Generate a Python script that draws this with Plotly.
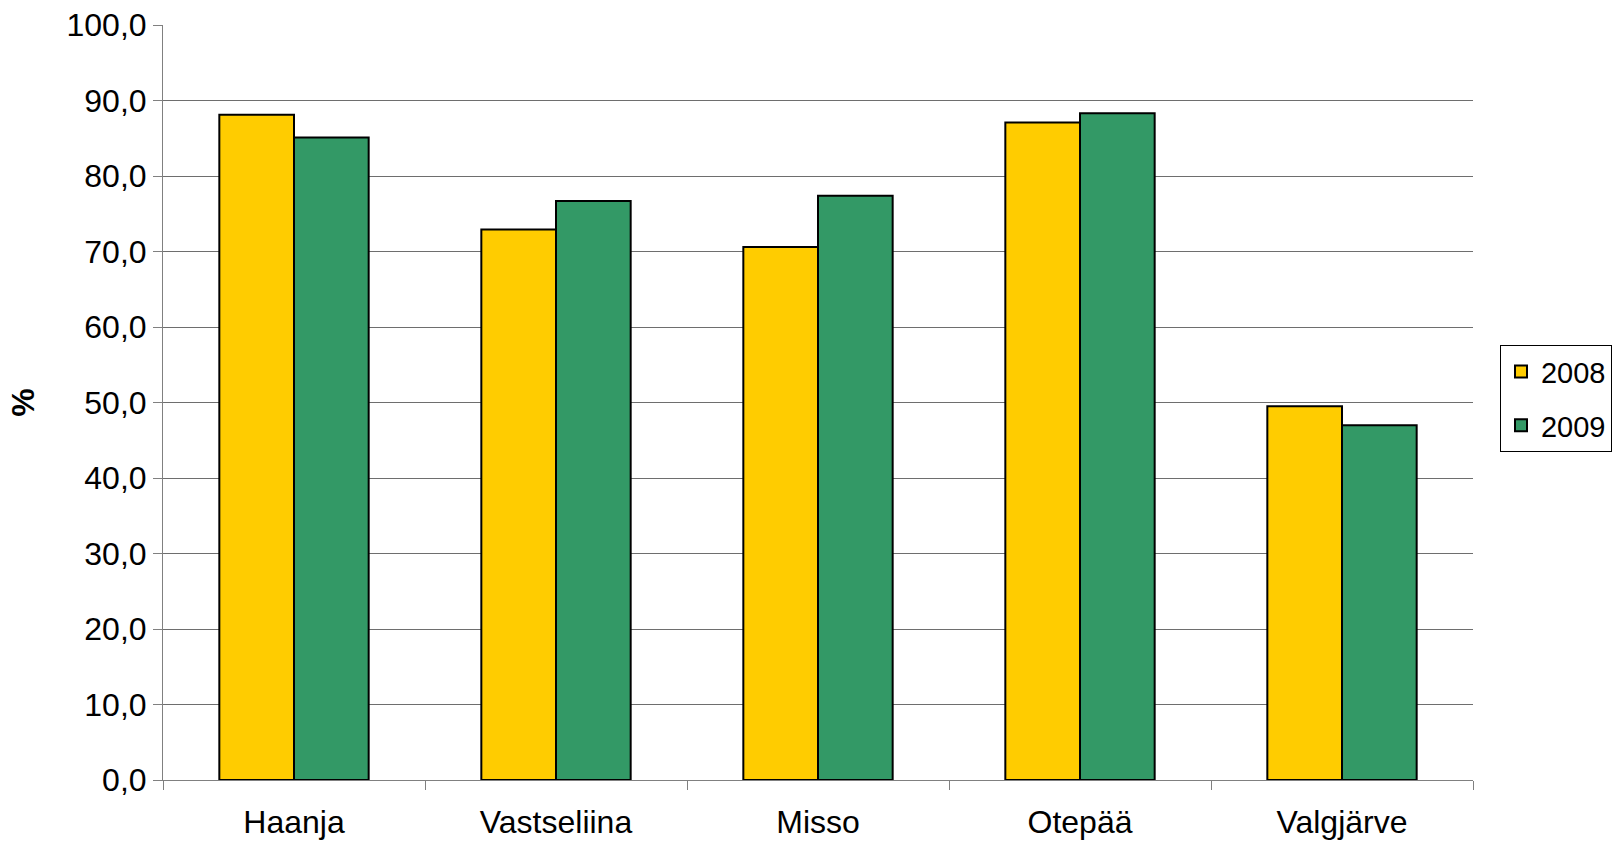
import plotly.graph_objects as go

categories = ["Haanja", "Vastseliina", "Misso", "Otepää", "Valgjärve"]
values_2008 = [88.1, 72.9, 70.6, 87.1, 49.5]
values_2009 = [85.1, 76.7, 77.4, 88.3, 47.0]
y_ticks = [0, 10, 20, 30, 40, 50, 60, 70, 80, 90, 100]

FONT = "Liberation Sans, Arial, sans-serif"
FS = 32

fig = go.Figure()
fig.add_trace(go.Bar(name="2008", x=categories, y=values_2008, legendgroup="a",
                     marker=dict(color="#FFCC00", line=dict(color="#000000", width=2))))
fig.add_trace(go.Bar(name="2009", x=categories, y=values_2009, legendgroup="b",
                     marker=dict(color="#339966", line=dict(color="#000000", width=2))))

fig.update_layout(
    width=1614, height=843,
    margin=dict(l=163, r=141, t=25, b=63, autoexpand=False),
    paper_bgcolor="white", plot_bgcolor="white",
    barmode="group", bargap=0.43, bargroupgap=0,
    separators=", ",
    font=dict(family=FONT, size=FS, color="#000000"),
    showlegend=True,
    legend=dict(x=1.0206, xanchor="left", y=0.505, yanchor="middle",
                bordercolor="#000000", borderwidth=1, bgcolor="white",
                font=dict(size=29), itemwidth=30, tracegroupgap=13),
)
fig.update_xaxes(
    showline=True, linecolor="#808080", linewidth=1,
    ticks="outside", tickson="boundaries", ticklen=9, tickcolor="#808080",
    showgrid=False, tickfont=dict(size=FS), ticklabelstandoff=14,
    automargin=False,
)
fig.update_yaxes(
    range=[0, 100], tickvals=y_ticks, tickformat=".1f",
    showline=True, linecolor="#808080", linewidth=1,
    ticks="outside", ticklen=9, tickcolor="#808080",
    showgrid=True, gridcolor="#6e6e6e", gridwidth=1,
    zeroline=False, tickfont=dict(size=FS), automargin=False,
    title=dict(text="<b>%</b>", font=dict(size=FS), standoff=22),
)

fig.write_html("out.html")
